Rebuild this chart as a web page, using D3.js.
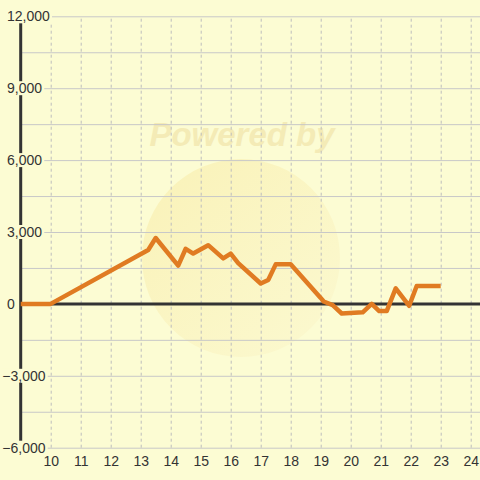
<!DOCTYPE html>
<html><head><meta charset="utf-8">
<script src="https://cdn.jsdelivr.net/npm/d3@7"></script>
<style>body{margin:0;background:#FCFCD3}svg{display:block}</style>
</head><body>
<svg width="480" height="480"></svg>
<script>
const xValues = [9, 10, 13.25, 13.5, 14.25, 14.5, 14.75, 15.25, 15.75, 16, 16.25, 17, 17.25, 17.5, 18, 19, 19.1, 19.4, 19.7, 20.4, 20.7, 20.95, 21.2, 21.5, 21.95, 22.2, 23];
const yValues = [0, 0, 2250, 2750, 1600, 2300, 2100, 2450, 1900, 2100, 1700, 850, 1000, 1650, 1650, 250, 100, -50, -400, -350, 0, -300, -300, 650, -80, 750, 750];
const xTickLabels = [10, 11, 12, 13, 14, 15, 16, 17, 18, 19, 20, 21, 22, 23, 24];
const yTickLabels = [-6000, -3000, 0, 3000, 6000, 9000, 12000];
const yGridValues = [-6000, -4500, -3000, -1500, 0, 1500, 3000, 4500, 6000, 7500, 9000, 10500, 12000];

(function () {
const W = 480, H = 480;
const pLeft = 20.7, pRight = 480, pTop = 16.3, pBottom = 447.7;
const bg = "#FCFCD3";
const svg = d3.select("svg");

const x = d3.scaleLinear().domain([9, 24]).range([pLeft, 470.7]);
const y = d3.scaleLinear().domain([-6000, 12000]).range([pBottom, pTop]);

svg.append("rect").attr("width", W).attr("height", H).attr("fill", bg);

// watermark
const defs = svg.append("defs");
const grad = defs.append("linearGradient").attr("id", "wm").attr("x1", "0").attr("y1", "0").attr("x2", "1").attr("y2", "1");
grad.append("stop").attr("offset", "0").attr("stop-color", "#F8EBA6");
grad.append("stop").attr("offset", "1").attr("stop-color", "#FBF7CE");
svg.append("circle").attr("cx", 241).attr("cy", 258).attr("r", 99).attr("fill", "url(#wm)").attr("opacity", 0.6);
svg.append("text").attr("x", 242).attr("y", 146).attr("text-anchor", "middle")
  .attr("font-family", "Liberation Sans, Arial, sans-serif").attr("font-size", 33)
  .attr("font-weight", "bold").attr("font-style", "italic").attr("fill", "#F4EBB6").text("Powered by");

// horizontal gridlines
const hg = svg.append("g").attr("transform", `translate(${pLeft},0)`)
  .call(d3.axisLeft(y).tickValues(yGridValues).tickSize(-(pRight - pLeft)).tickFormat(""));
hg.select(".domain").remove();
hg.selectAll("line").attr("stroke", "#C8C8C8").attr("stroke-width", 1);

// vertical dashed gridlines
const vg = svg.append("g").attr("transform", `translate(0,${pBottom})`)
  .call(d3.axisBottom(x).tickValues(xTickLabels).tickSize(-(pBottom - pTop)).tickFormat(""));
vg.select(".domain").remove();
vg.selectAll("line").attr("stroke", "#BDBDBD").attr("stroke-width", 1).attr("stroke-dasharray", "3,3");

// y axis line
svg.append("line").attr("x1", pLeft).attr("x2", pLeft).attr("y1", pTop).attr("y2", pBottom)
  .attr("stroke", "#333").attr("stroke-width", 3);
// zero line
svg.append("line").attr("x1", pLeft).attr("x2", pRight).attr("y1", y(0)).attr("y2", y(0))
  .attr("stroke", "#333").attr("stroke-width", 3);

// data line
const pts = xValues.map((v, i) => [v, yValues[i]]);
svg.append("path").datum(pts)
  .attr("d", d3.line().x(d => x(d[0])).y(d => y(d[1])))
  .attr("fill", "none").attr("stroke", "#E07B22").attr("stroke-width", 4.5)
  .attr("stroke-linejoin", "round").attr("stroke-linecap", "butt");

// y labels with background
const fmt = d3.format(",");
const yl = svg.append("g");
yTickLabels.forEach(v => {
  const g = yl.append("g");
  const t = g.append("text").attr("x", v < 0 ? 2.3 : 7).attr("y", y(v) + 5)
    .attr("font-family", "Liberation Sans, Arial, sans-serif").attr("font-size", 14)
    .attr("fill", "#333").text(fmt(v));
  const b = t.node().getBBox();
  g.insert("rect", "text").attr("x", b.x - 1).attr("y", b.y + 1).attr("width", b.width + 3).attr("height", b.height - 2).attr("fill", bg);
});

// x labels
const xa = svg.append("g").attr("transform", `translate(0,${pBottom})`)
  .call(d3.axisBottom(x).tickValues(xTickLabels).tickSize(0).tickPadding(0).tickFormat(d3.format("d")));
xa.select(".domain").remove();
xa.selectAll("text").attr("font-family", "Liberation Sans, Arial, sans-serif").attr("font-size", 14)
  .attr("fill", "#333").attr("dy", null).attr("y", 18);
})();
</script>
</body></html>
